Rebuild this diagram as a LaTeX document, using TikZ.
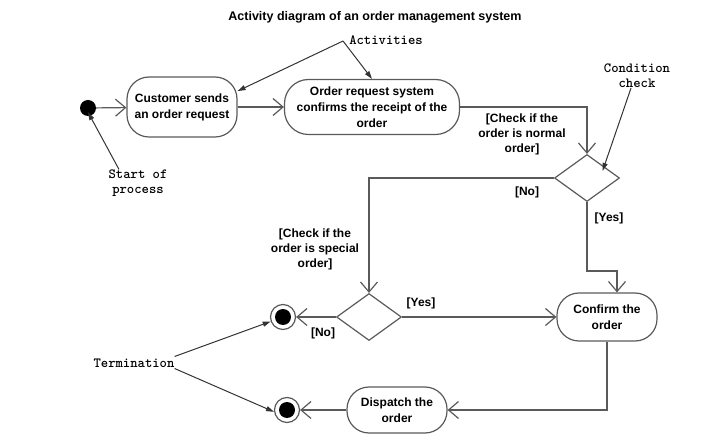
\documentclass[tikz,border=0pt]{standalone}
\usepackage{fontspec}
\setmainfont{Liberation Sans}
\usetikzlibrary{shapes.geometric,arrows.meta,calc}
\definecolor{ln}{HTML}{5A5A5A}
\tikzset{
  act/.style={draw=ln, line width=1.2pt, rectangle, rounded corners=22pt, align=center,
    font=\fontsize{12}{16}\selectfont\bfseries, inner sep=0pt},
  dec/.style={draw=ln, line width=1.2pt, diamond, minimum width=65pt, minimum height=47pt, inner sep=0pt},
  startdot/.style={circle, fill=black, minimum size=16pt, inner sep=0pt},
  enddot/.style={circle, draw=ln, line width=1.2pt, minimum size=25pt, inner sep=0pt,
    path picture={\fill[black] (path picture bounding box.center) circle (8pt);}},
  flow/.style={draw=ln, line width=1.2pt, -{Straight Barb[length=10pt,width=17pt]}},
  note/.style={draw=black!80, line width=1pt, -{Triangle[length=8pt,width=5pt]}},
  guard/.style={font=\fontsize{12}{15}\selectfont\bfseries, align=center, inner sep=0pt},
  mono/.style={font=\fontsize{14}{15}\selectfont\ttfamily\bfseries, align=center, inner sep=0pt},
}
\begin{document}
\begin{tikzpicture}[x=1pt,y=-1pt]
\useasboundingbox (0,0) rectangle (720,438);

\node[font=\fontsize{12.5}{14}\selectfont\bfseries] (title) at (375,17) {Activity diagram of an order management system};

% nodes
\node[startdot] (start) at (88,108) {};
\node[act, minimum width=110pt, minimum height=60pt] (cust) at (182,107) {Customer sends\\an order request};
\node[act, minimum width=175pt, minimum height=55pt, rounded corners=24pt] (ors) at (372,107) {Order request system\\confirms the receipt of the\\order};
\node[dec] (d1) at (587,178) {};
\node[dec] (d2) at (369,317) {};
\node[act, minimum width=100pt, minimum height=48pt] (conf) at (607,317) {Confirm the\\order};
\node[act, minimum width=100pt, minimum height=46pt] (disp) at (397,410) {Dispatch the\\order};
\node[enddot] (end1) at (283,317) {};
\node[enddot] (end2) at (287,410) {};

% text annotations
\node[mono] (actv) at (386,40) {Activities};
\node[mono] (cc) at (637,76) {Condition\\check};
\node[mono] (sp) at (138,183) {Start of\\process};
\node[mono] (term) at (134,363) {Termination};

% guards
\node[guard] (g1) at (522,134) {[Check if the\\order is normal\\order]};
\node[guard] (g2) at (527,192) {[No]};
\node[guard] (g3) at (609,218) {[Yes]};
\node[guard] (g4) at (315,249) {[Check if the\\order is special\\order]};
\node[guard] (g5) at (421,303) {[Yes]};
\node[guard] (g6) at (323,333) {[No]};

% flows
\draw[flow] (start) -- (cust);
\draw[flow] (cust) -- (ors);
\draw[flow] (ors.east) -| (d1.north);
\draw[flow] (d1.west) -| (d2.north);
\coordinate (yy) at (587,271);
\draw[flow] (d1.south) -- (yy) -| ([xshift=10pt]conf.north);
\draw[flow] (d2.east) -- (conf.west);
\draw[flow] (d2.west) -- (end1);
\draw[flow] (conf.south) |- (disp.east);
\draw[flow] (disp.west) -- (end2);

% annotation arrows
\coordinate (asrc) at (343,41);
\draw[note] (asrc) -- (cust.16);
\draw[note] (asrc) -- (ors.north);
\draw[note] ([xshift=-6pt]cc.south) -- ([shift={(-1pt,-5pt)}]d1.north east);
\draw[note] ([xshift=-19pt]sp.north) -- ([yshift=4pt]start.south);
\draw[note] ([yshift=2pt]term.north east) -- (end1.200);
\draw[note] ([yshift=-1pt]term.south east) -- (end2.188);
\end{tikzpicture}
\end{document}
